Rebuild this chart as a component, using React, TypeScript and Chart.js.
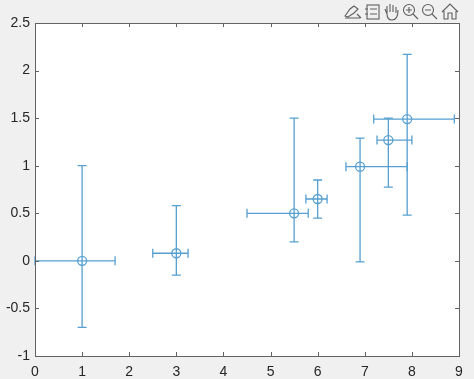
import React, { useEffect, useRef } from "react";
import { Chart, registerables } from "chart.js";

Chart.register(...registerables);

const xValues = [1, 3, 5.5, 6, 6.9, 7.5, 7.9];
const yValues = [0, 0.08, 0.5, 0.65, 0.99, 1.27, 1.49];
const xLow = [0, 2.5, 4.5, 5.75, 6.6, 7.26, 7.19];
const xHigh = [1.7, 3.25, 5.8, 6.2, 7.9, 8.0, 8.9];
const yLow = [-0.7, -0.15, 0.2, 0.45, -0.01, 0.775, 0.48];
const yHigh = [1.0, 0.58, 1.5, 0.85, 1.29, 1.5, 2.17];
const xTicks = [0, 1, 2, 3, 4, 5, 6, 7, 8, 9];
const yTicks = [-1, -0.5, 0, 0.5, 1, 1.5, 2, 2.5];

const BLUE = "#569fd0";
const AXIS = "#626262";
const CAP = 4.5;
const TICK = 4;

const errorBars = {
  id: "errorBars",
  beforeDatasetsDraw(chart: any) {
    const { ctx, scales } = chart;
    const sx = scales.x;
    const sy = scales.y;
    ctx.save();
    ctx.strokeStyle = BLUE;
    ctx.lineWidth = 1.3;
    xValues.forEach((xv, i) => {
      const px = sx.getPixelForValue(xv);
      const py = sy.getPixelForValue(yValues[i]);
      const x0 = sx.getPixelForValue(xLow[i]);
      const x1 = sx.getPixelForValue(xHigh[i]);
      const y0 = sy.getPixelForValue(yLow[i]);
      const y1 = sy.getPixelForValue(yHigh[i]);
      ctx.beginPath();
      ctx.moveTo(x0, py);
      ctx.lineTo(x1, py);
      ctx.moveTo(x0, py - CAP);
      ctx.lineTo(x0, py + CAP);
      ctx.moveTo(x1, py - CAP);
      ctx.lineTo(x1, py + CAP);
      ctx.moveTo(px, y0);
      ctx.lineTo(px, y1);
      ctx.moveTo(px - CAP, y0);
      ctx.lineTo(px + CAP, y0);
      ctx.moveTo(px - CAP, y1);
      ctx.lineTo(px + CAP, y1);
      ctx.stroke();
    });
    ctx.restore();
  },
};

const axisBox = {
  id: "axisBox",
  afterDraw(chart: any) {
    const { ctx, chartArea: a, scales } = chart;
    ctx.save();
    ctx.strokeStyle = AXIS;
    ctx.lineWidth = 1;
    ctx.strokeRect(a.left + 0.5, a.top + 0.5, a.right - a.left, a.bottom - a.top);
    ctx.beginPath();
    xTicks.forEach((t) => {
      const p = Math.round(scales.x.getPixelForValue(t)) + 0.5;
      ctx.moveTo(p, a.bottom);
      ctx.lineTo(p, a.bottom - TICK);
      ctx.moveTo(p, a.top);
      ctx.lineTo(p, a.top + TICK);
    });
    yTicks.forEach((t) => {
      const p = Math.round(scales.y.getPixelForValue(t)) + 0.5;
      ctx.moveTo(a.left, p);
      ctx.lineTo(a.left + TICK, p);
      ctx.moveTo(a.right, p);
      ctx.lineTo(a.right - TICK, p);
    });
    ctx.stroke();
    ctx.restore();
  },
};

function Toolbar() {
  return (
    <svg
      width={474}
      height={24}
      style={{ position: "absolute", left: 0, top: 0, pointerEvents: "none" }}
      fill="none"
      stroke="#5f5f5f"
      strokeWidth={1.1}
    >
      <path d="M345 16 L350 9 L354 6 L358 9 L354 13 L348 17 Z M345 18 H360 M357 14 L361 18" />
      <rect x={367} y={5} width={12} height={14} />
      <path d="M370 9 H377 M370 14 H377 M365 9 H368 M365 14 H368" />
      <path d="M387 14 L385 9 M387 14 V6 M390 12 V4 M393 12 V5 M396 13 V7 M387 14 C387 19 390 20 392 20 C396 20 398 17 398 10" />
      <circle cx={409} cy={10} r={5.5} />
      <path d="M413 14 L418 19 M406 10 H412 M409 7 V13" />
      <circle cx={428} cy={10} r={5.5} />
      <path d="M432 14 L437 19 M425 10 H431" />
      <path d="M442 12 L450 4 L458 12 M444 11 V19 H448 V13 H452 V19 H456 V11" />
    </svg>
  );
}

export default function App() {
  const ref = useRef<HTMLCanvasElement>(null);

  useEffect(() => {
    document.body.style.margin = "0";
    document.body.style.background = "#f0f0f0";
    const chart = new Chart(ref.current!, {
      type: "scatter",
      data: {
        datasets: [
          {
            data: xValues.map((x, i) => ({ x, y: yValues[i] })),
            pointStyle: "circle",
            pointRadius: 4.5,
            pointBorderColor: BLUE,
            pointBackgroundColor: "transparent",
            pointBorderWidth: 1.3,
            showLine: false,
            clip: false,
          },
        ],
      },
      options: {
        animation: false,
        responsive: false,
        layout: { padding: { top: 23, right: 15, left: 0, bottom: 0 } },
        plugins: { legend: { display: false }, tooltip: { enabled: false } },
        scales: {
          x: {
            type: "linear",
            min: 0,
            max: 9,
            afterBuildTicks: (s: any) => {
              s.ticks = xTicks.map((value) => ({ value }));
            },
            afterFit: (s: any) => {
              s.height = 23;
            },
            grid: { display: false, drawTicks: false },
            border: { display: false },
            ticks: {
              autoSkip: false,
              maxRotation: 0,
              padding: 8,
              color: "#262626",
              font: { family: "'Liberation Sans'", size: 14 },
              callback: (v: any) => String(v),
            },
          },
          y: {
            type: "linear",
            min: -1,
            max: 2.5,
            afterBuildTicks: (s: any) => {
              s.ticks = yTicks.map((value) => ({ value }));
            },
            afterFit: (s: any) => {
              s.width = 35;
            },
            grid: { display: false, drawTicks: false },
            border: { display: false },
            ticks: {
              autoSkip: false,
              padding: 5,
              color: "#262626",
              font: { family: "'Liberation Sans'", size: 14 },
              callback: (v: any) => String(v),
            },
          },
        },
      },
      plugins: [
        {
          id: "whitePlot",
          beforeDraw(c: any) {
            const a = c.chartArea;
            c.ctx.save();
            c.ctx.fillStyle = "#ffffff";
            c.ctx.fillRect(a.left, a.top, a.right - a.left, a.bottom - a.top);
            c.ctx.restore();
          },
        },
        errorBars,
        axisBox,
      ],
    } as any);
    return () => chart.destroy();
  }, []);

  return (
    <div style={{ position: "relative", width: 474, height: 379, background: "#f0f0f0", overflow: "hidden" }}>
      <canvas ref={ref} width={474} height={379} style={{ display: "block" }} />
      <Toolbar />
    </div>
  );
}
